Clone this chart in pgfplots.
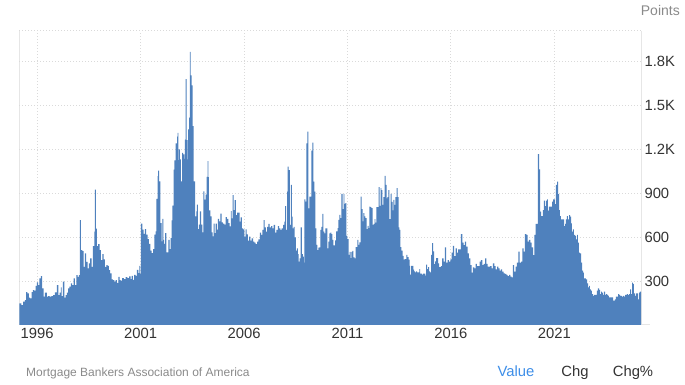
\documentclass[border=0pt]{standalone}
\usepackage{pgfplots}
\pgfplotsset{compat=1.18}
\usepackage{pgfplotstable}
\usepackage{fontspec}
\setmainfont{Liberation Sans}
\definecolor{area}{HTML}{4F81BD}
\definecolor{gridc}{HTML}{DADADA}
\definecolor{axc}{HTML}{E6E6E6}
\definecolor{tickc}{HTML}{333333}
\definecolor{src}{HTML}{8A8A8A}
\definecolor{valblue}{HTML}{3D8EE8}

\pgfplotstableread{
x y
1995.14 148
1995.24 136
1995.32 159
1995.40 170
1995.47 225
1995.53 216
1995.60 186
1995.66 182
1995.73 225
1995.79 238
1995.85 234
1995.92 266
1995.98 290
1996.05 272
1996.11 318
1996.18 334
1996.24 250
1996.31 193
1996.37 220
1996.47 193
1996.53 197
1996.60 193
1996.69 197
1996.77 204
1996.85 222
1996.95 272
1997.02 204
1997.08 220
1997.15 256
1997.18 197
1997.24 295
1997.31 186
1997.37 204
1997.44 220
1997.50 250
1997.56 261
1997.63 284
1997.69 272
1997.76 318
1997.82 272
1997.89 340
1997.95 329
1998.02 340
1998.06 715
1998.11 511
1998.18 504
1998.24 397
1998.31 488
1998.37 431
1998.44 386
1998.50 420
1998.56 454
1998.63 397
1998.69 538
1998.76 636
1998.79 924
1998.84 658
1998.89 538
1998.95 552
1999.02 511
1999.08 443
1999.15 484
1999.21 447
1999.27 397
1999.34 409
1999.40 404
1999.47 375
1999.53 352
1999.60 311
1999.66 306
1999.73 295
1999.79 306
1999.85 288
1999.92 329
1999.98 306
2000.03 303
2000.11 319
2000.19 312
2000.27 326
2000.36 319
2000.44 331
2000.52 312
2000.56 335
2000.63 308
2000.69 342
2000.76 335
2000.82 376
2000.89 353
2000.94 404
2000.98 349
2001.01 691
2001.08 650
2001.14 622
2001.21 654
2001.27 616
2001.34 586
2001.40 554
2001.47 508
2001.53 490
2001.60 518
2001.66 616
2001.72 638
2001.76 860
2001.82 1015
2001.85 1053
2001.90 980
2001.95 695
2002.02 570
2002.05 723
2002.10 581
2002.14 554
2002.19 627
2002.24 495
2002.31 495
2002.34 581
2002.40 518
2002.45 593
2002.50 714
2002.53 814
2002.60 1060
2002.63 1122
2002.69 1238
2002.76 1284
2002.79 1311
2002.82 1124
2002.85 1197
2002.90 1129
2002.95 980
2003.01 1174
2003.06 1163
2003.11 1133
2003.14 1265
2003.18 1676
2003.22 1261
2003.27 1129
2003.30 1334
2003.34 1414
2003.38 1863
2003.42 1703
2003.46 1635
2003.51 1357
2003.56 980
2003.63 741
2003.69 775
2003.72 821
2003.77 654
2003.82 684
2003.87 775
2003.92 684
2003.98 632
2004.03 912
2004.08 855
2004.14 889
2004.19 1010
2004.24 1117
2004.27 1008
2004.30 782
2004.37 741
2004.43 632
2004.48 604
2004.53 691
2004.58 627
2004.63 691
2004.69 650
2004.74 723
2004.79 707
2004.85 759
2004.92 700
2004.98 691
2005.05 684
2005.11 736
2005.17 723
2005.24 695
2005.30 673
2005.36 777
2005.40 727
2005.45 886
2005.50 784
2005.55 852
2005.60 750
2005.66 766
2005.73 766
2005.79 705
2005.84 734
2005.89 659
2005.95 652
2006.02 602
2006.08 652
2006.13 618
2006.18 575
2006.24 602
2006.31 575
2006.37 591
2006.44 568
2006.50 561
2006.56 552
2006.63 568
2006.69 584
2006.76 630
2006.82 614
2006.89 648
2006.95 716
2007.00 666
2007.05 636
2007.11 670
2007.18 689
2007.24 666
2007.31 675
2007.37 659
2007.43 682
2007.50 630
2007.56 648
2007.63 675
2007.69 659
2007.76 648
2007.82 659
2007.89 682
2007.95 705
2007.98 811
2008.03 648
2008.08 909
2008.11 1080
2008.16 1057
2008.21 682
2008.26 955
2008.31 739
2008.35 659
2008.40 670
2008.45 598
2008.50 507
2008.55 523
2008.60 484
2008.64 432
2008.69 455
2008.74 666
2008.79 484
2008.84 466
2008.89 425
2008.92 857
2008.97 841
2009.01 1239
2009.06 1318
2009.11 796
2009.16 875
2009.21 875
2009.26 1189
2009.30 1243
2009.35 977
2009.40 909
2009.45 659
2009.50 546
2009.55 511
2009.59 527
2009.64 530
2009.69 648
2009.74 670
2009.79 757
2009.84 636
2009.88 625
2009.93 659
2009.98 659
2010.03 523
2010.08 568
2010.13 625
2010.17 630
2010.22 620
2010.27 580
2010.32 543
2010.37 543
2010.40 577
2010.45 638
2010.52 661
2010.56 717
2010.61 751
2010.66 729
2010.71 894
2010.76 790
2010.81 894
2010.85 826
2010.90 831
2010.95 608
2011.00 586
2011.05 479
2011.10 499
2011.15 456
2011.19 499
2011.24 506
2011.29 461
2011.34 454
2011.39 531
2011.44 531
2011.48 581
2011.53 547
2011.58 563
2011.63 876
2011.68 790
2011.73 706
2011.77 763
2011.82 740
2011.87 729
2011.92 654
2011.97 676
2012.02 661
2012.06 808
2012.11 804
2012.16 797
2012.21 683
2012.26 690
2012.31 722
2012.35 699
2012.40 804
2012.45 804
2012.50 940
2012.55 813
2012.60 933
2012.64 919
2012.69 819
2012.74 872
2012.79 1017
2012.84 956
2012.89 863
2012.93 872
2012.98 919
2013.03 722
2013.08 894
2013.13 840
2013.18 781
2013.22 853
2013.27 819
2013.32 872
2013.37 933
2013.42 872
2013.47 665
2013.51 649
2013.56 531
2013.61 508
2013.66 472
2013.71 445
2013.76 449
2013.80 449
2013.85 479
2013.90 463
2013.95 445
2014.00 404
2014.03 343
2014.08 404
2014.13 404
2014.18 377
2014.22 365
2014.27 359
2014.32 365
2014.37 359
2014.42 359
2014.47 381
2014.51 350
2014.56 350
2014.61 343
2014.66 350
2014.71 350
2014.76 336
2014.80 411
2014.85 381
2014.90 395
2014.95 365
2015.00 359
2015.04 479
2015.09 558
2015.14 502
2015.19 415
2015.24 434
2015.29 456
2015.34 456
2015.38 420
2015.43 395
2015.48 395
2015.52 402
2015.58 455
2015.65 432
2015.71 530
2015.77 425
2015.84 443
2015.90 432
2015.97 448
2016.03 493
2016.10 539
2016.16 470
2016.23 523
2016.29 493
2016.35 516
2016.42 516
2016.48 620
2016.55 561
2016.61 545
2016.68 568
2016.74 534
2016.81 489
2016.87 455
2016.94 409
2017.00 357
2017.06 393
2017.13 386
2017.19 416
2017.26 402
2017.32 402
2017.39 432
2017.45 443
2017.52 409
2017.58 416
2017.65 455
2017.71 416
2017.77 398
2017.84 398
2017.90 402
2017.97 386
2018.03 420
2018.10 402
2018.16 380
2018.23 398
2018.29 386
2018.35 370
2018.42 380
2018.48 364
2018.55 352
2018.61 348
2018.68 341
2018.74 334
2018.81 341
2018.87 330
2018.94 325
2019.00 409
2019.06 364
2019.13 398
2019.19 425
2019.26 500
2019.32 425
2019.39 432
2019.45 523
2019.52 500
2019.58 620
2019.65 614
2019.71 568
2019.77 580
2019.84 561
2019.90 530
2019.97 477
2020.03 614
2020.10 689
2020.16 689
2020.21 1166
2020.26 1061
2020.31 773
2020.36 743
2020.40 743
2020.45 784
2020.50 848
2020.55 811
2020.60 848
2020.65 857
2020.69 780
2020.74 807
2020.79 807
2020.84 807
2020.89 841
2020.94 857
2020.98 857
2021.03 825
2021.08 955
2021.13 977
2021.18 893
2021.23 784
2021.27 743
2021.32 720
2021.37 720
2021.42 720
2021.47 675
2021.52 689
2021.56 720
2021.61 743
2021.66 720
2021.71 750
2021.76 739
2021.81 693
2021.85 636
2021.90 652
2021.95 614
2022.00 607
2022.05 584
2022.10 614
2022.14 561
2022.19 493
2022.24 489
2022.29 425
2022.34 370
2022.39 357
2022.43 318
2022.48 318
2022.53 311
2022.58 284
2022.63 257
2022.68 266
2022.72 243
2022.77 234
2022.82 211
2022.87 198
2022.92 205
2022.97 205
2023.01 205
2023.06 234
2023.11 250
2023.16 239
2023.21 211
2023.26 227
2023.30 220
2023.35 205
2023.40 227
2023.45 205
2023.50 211
2023.55 205
2023.60 198
2023.64 189
2023.69 189
2023.74 189
2023.79 189
2023.84 166
2023.89 166
2023.93 175
2023.98 193
2024.03 193
2024.08 211
2024.13 205
2024.18 198
2024.22 198
2024.27 193
2024.32 198
2024.37 193
2024.42 205
2024.47 205
2024.51 211
2024.56 205
2024.61 211
2024.66 243
2024.71 211
2024.76 289
2024.80 280
2024.85 216
2024.90 198
2024.95 216
2025.00 216
2025.05 175
2025.10 220
2025.14 227
2025.19 227
}\refi

\begin{document}
\begin{tikzpicture}[x=1pt,y=1pt]
\useasboundingbox (0,0) rectangle (685,385);
\draw[axc, line width=1pt] (19,60) -- (19,354);
\draw[axc, line width=1pt] (641,60) -- (641,354);
\draw[axc, line width=1pt] (19,60) -- (650,60);
\draw[gridc, line width=1pt, dash pattern=on 1pt off 2pt] (19,354) -- (641,354);
\begin{axis}[
  at={(19pt,60pt)}, anchor=south west, scale only axis,
  width=622pt, height=294pt,
  xmin=1995.12, xmax=2025.19, ymin=0, ymax=2005,
  axis line style={draw=none},
  major tick length=0pt,
  xtick={1996,2001,2006,2011,2016,2021},
  xticklabels={1996,2001,2006,2011,2016,2021},
  ytick={300,600,900,1200,1500,1800},
  yticklabels={300,600,900,1.2K,1.5K,1.8K},
  yticklabel pos=right,
  grid=major,
  major grid style={gridc, line width=1pt, dash pattern=on 1pt off 2pt},
  ticklabel style={font=\fontsize{14.8}{17}\selectfont, text=tickc},
  /pgf/number format/assume math mode=true,
]
\addplot[const plot, fill=area, draw=none] table[x=x,y=y] {\refi} \closedcycle;
\end{axis}
\node[anchor=base east, inner sep=0pt, text=src, font=\fontsize{14}{16}\selectfont] at (680,369) {Points};
\node[anchor=base west, inner sep=0pt, text=src, font=\fontsize{12}{14}\selectfont] at (26,8.7) {Mortgage Bankers Association of America};
\node[anchor=base, inner sep=0pt, text=valblue, font=\fontsize{14.8}{17}\selectfont] at (516,8) {Value};
\node[anchor=base, inner sep=0pt, text=tickc, font=\fontsize{14.8}{17}\selectfont] at (575,8) {Chg};
\node[anchor=base, inner sep=0pt, text=tickc, font=\fontsize{14.8}{17}\selectfont] at (633,8) {Chg\%};
\end{tikzpicture}
\end{document}
